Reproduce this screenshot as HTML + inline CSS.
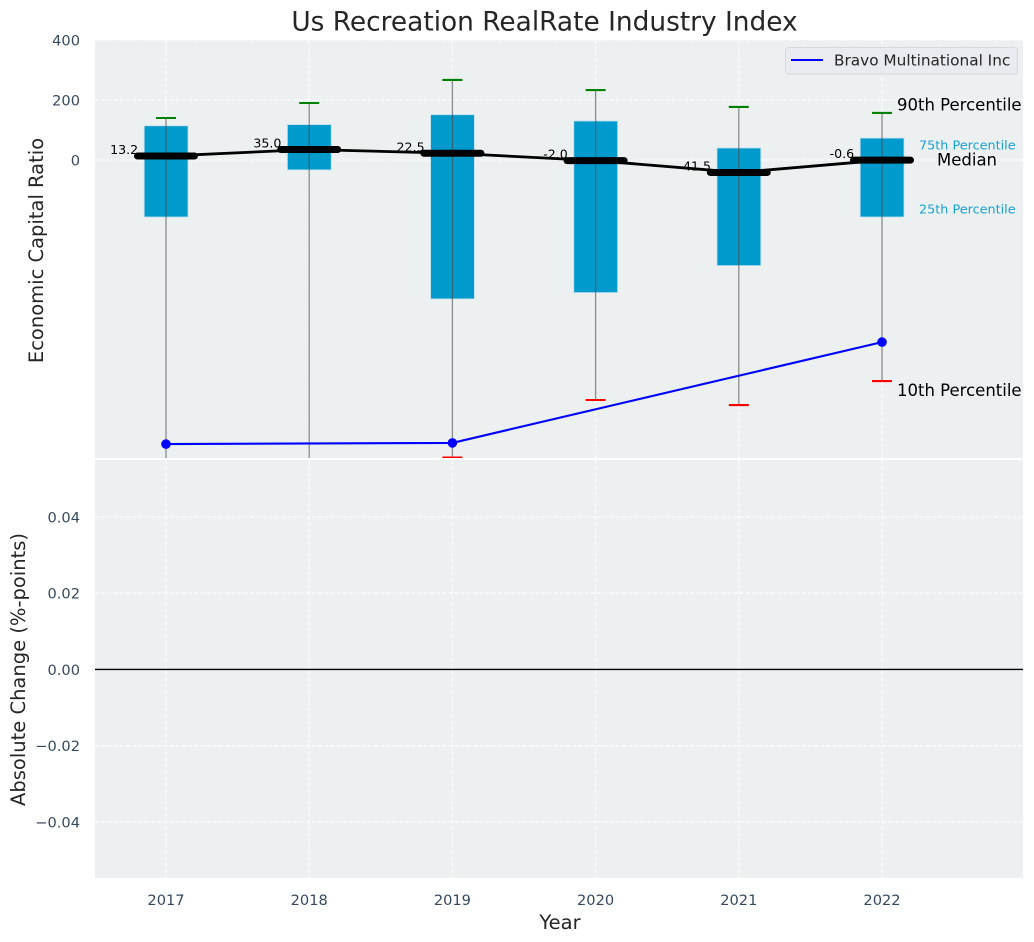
<!DOCTYPE html>
<html lang="en">
<head>
<meta charset="utf-8">
<title>Us Recreation RealRate Industry Index</title>
<style>
html,body{margin:0;padding:0;background:#fff;width:1034px;height:942px;overflow:hidden}
svg{display:block}
text{font-family:"DejaVu Sans","Liberation Sans",sans-serif}
.tick{font-size:14.6px;fill:#34495e}
.label{font-size:19.5px;fill:#262626}
</style>
</head>
<body>
<svg id="chart" xmlns="http://www.w3.org/2000/svg" width="1034" height="942" viewBox="0 0 1034 942">
  <defs>
    <clipPath id="top-clip"><rect x="95" y="40" width="928" height="418"/></clipPath>
  </defs>
  <rect x="95" y="40" width="928" height="418" fill="#ecf0f1"/>
  <rect x="95" y="460" width="928" height="418" fill="#ecf0f1"/>
  <g id="grid"></g>
  <g id="marks" clip-path="url(#top-clip)"></g>
  <g id="annotations"></g>
  <g id="ticks"></g>
  <text x="544.5" y="30.5" text-anchor="middle" font-size="26.4" fill="#262626">Us Recreation RealRate Industry Index</text>
  <text class="label" text-anchor="middle" transform="translate(43,250.5) rotate(-90)">Economic Capital Ratio</text>
  <text class="label" text-anchor="middle" transform="translate(25,669.5) rotate(-90)">Absolute Change (%-points)</text>
  <text class="label" x="560" y="929" text-anchor="middle">Year</text>
  <g>
    <rect x="785.5" y="47.5" width="232" height="26.5" rx="3" fill="#e9ebf1" stroke="#d8d9de"/>
    <line x1="791" y1="60" x2="823" y2="60" stroke="#0000ff" stroke-width="2"/>
    <text x="834" y="65.5" font-size="15.3" fill="#262626">Bravo Multinational Inc</text>
  </g>
</svg>
<script>
const years = [2017, 2018, 2019, 2020, 2021, 2022];
const p90 = [140, 190, 267, 233, 177, 157];
const q3 = [114, 118, 151, 130, 40, 73];
const medians = [13.2, 35.0, 22.5, -2.0, -41.5, -0.6];
const q1 = [-190, -33, -463, -442, -352, -190];
const p10 = [-1100, -1100, -992, -800, -817, -737];
const company = [-947, null, -943, null, null, -607];
const topTicks = [400, 200, 0];
const bottomTicks = [0.04, 0.02, 0, -0.02, -0.04];
const bottomZero = [0];

const NS = 'http://www.w3.org/2000/svg';
const grid = document.getElementById('grid');
const marks = document.getElementById('marks');
const annotations = document.getElementById('annotations');
const ticks = document.getElementById('ticks');

function x(year) { return 166 + (year - 2017) * 143.2; }
function yTop(v) { return 160 - v * 0.3; }
function yBottom(v) { return 669.4 - v * 3812.5; }

function make(parent, tag, attrs, text) {
  const el = document.createElementNS(NS, tag);
  for (const k in attrs) el.setAttribute(k, attrs[k]);
  if (text !== undefined) el.textContent = text;
  parent.appendChild(el);
  return el;
}

const gridStyle = { stroke: '#ffffff', 'stroke-width': 1.1, 'stroke-dasharray': '4 2.2', opacity: 0.9 };

topTicks.forEach(function (v) {
  const line = make(grid, 'line', Object.assign({ x1: 95, x2: 1023, y1: yTop(v), y2: yTop(v) }, gridStyle));
  
  
  const label = make(ticks, 'text', { class: 'tick', x: 80, y: yTop(v) + 5.5, 'text-anchor': 'end' }, String(v));
  
  
});

bottomTicks.forEach(function (v) {
  const line = make(grid, 'line', Object.assign({ x1: 95, x2: 1023, y1: yBottom(v), y2: yBottom(v) }, gridStyle));
  
  
  const text = v.toFixed(2).replace('-', '\u2212');
  const label = make(ticks, 'text', { class: 'tick', x: 80, y: yBottom(v) + 5.5, 'text-anchor': 'end' }, text);
  
  
});

years.forEach(function (year) {
  const topLine = make(grid, 'line', Object.assign({ x1: x(year), x2: x(year), y1: 40, y2: 458 }, gridStyle));
  
  
  const bottomLine = make(grid, 'line', Object.assign({ x1: x(year), x2: x(year), y1: 460, y2: 878 }, gridStyle));
  
  
  const label = make(ticks, 'text', { class: 'tick', x: x(year), y: 905, 'text-anchor': 'middle' }, String(year));
  
  
});

bottomZero.forEach(function (v) {
  const zero = make(grid, 'line', { x1: 95, x2: 1023, y1: yBottom(v), y2: yBottom(v), stroke: '#000000', 'stroke-width': 1.4 });
  
  
});

years.forEach(function (year, i) {
  const box = make(marks, 'rect', {
    x: x(year) - 21.8, width: 43.8,
    y: yTop(q3[i]), height: yTop(q1[i]) - yTop(q3[i]),
    fill: '#009acd', stroke: '#bfe0ee', 'stroke-width': 0.8
  });
  
  
});

years.forEach(function (year, i) {
  const whisker = make(marks, 'line', {
    x1: x(year), x2: x(year), y1: yTop(p90[i]), y2: yTop(p10[i]),
    stroke: '#4a4a4a', 'stroke-opacity': 0.62, 'stroke-width': 1.3
  });
  
  
  const capHigh = make(marks, 'line', {
    x1: x(year) - 10, x2: x(year) + 10, y1: yTop(p90[i]), y2: yTop(p90[i]),
    stroke: '#008000', 'stroke-width': 2.1
  });
  
  
  const capLow = make(marks, 'line', {
    x1: x(year) - 10, x2: x(year) + 10, y1: yTop(p10[i]), y2: yTop(p10[i]),
    stroke: '#ff0000', 'stroke-width': 2.1
  });
  
  
});

const medianPoints = years.map(function (year, i) { return x(year) + ',' + yTop(medians[i]); }).join(' ');
const medianLine = make(marks, 'polyline', { points: medianPoints, fill: 'none', stroke: '#000000', 'stroke-width': 2.8 });



years.forEach(function (year, i) {
  const bar = make(marks, 'line', {
    x1: x(year) - 28.5, x2: x(year) + 28.5, y1: yTop(medians[i]), y2: yTop(medians[i]),
    stroke: '#000000', 'stroke-width': 7, 'stroke-linecap': 'round'
  });
  
  
  const value = make(annotations, 'text', {
    x: x(year) - 27.8, y: yTop(medians[i]) - 2, 'text-anchor': 'end', 'font-size': 12.6, fill: '#000000'
  }, medians[i].toFixed(1));
  
  
});

const companyPoints = [];
years.forEach(function (year, i) {
  if (company[i] !== null) companyPoints.push(x(year) + ',' + yTop(company[i]));
});
const companyLine = make(marks, 'polyline', { points: companyPoints.join(' '), fill: 'none', stroke: '#0000ff', 'stroke-width': 2.1 });



years.forEach(function (year, i) {
  if (company[i] === null) return;
  const dot = make(marks, 'circle', { cx: x(year), cy: yTop(company[i]), r: 4.8, fill: '#0000ff' });
  
  
});

const last = years.length - 1;
const lastX = x(years[last]);
const noteP90 = make(annotations, 'text', { x: lastX + 15, y: yTop(p90[last]) - 2.5, 'font-size': 16.5, fill: '#000000' }, '90th Percentile');


const noteQ3 = make(annotations, 'text', { x: lastX + 37, y: yTop(q3[last]) + 11.5, 'font-size': 12.8, fill: '#18a2d1' }, '75th Percentile');


const noteMedian = make(annotations, 'text', { x: lastX + 55, y: yTop(medians[last]) + 5.5, 'font-size': 16.5, fill: '#000000' }, 'Median');


const noteQ1 = make(annotations, 'text', { x: lastX + 37, y: yTop(q1[last]) - 3.5, 'font-size': 12.8, fill: '#18a2d1' }, '25th Percentile');


const noteP10 = make(annotations, 'text', { x: lastX + 15, y: yTop(p10[last]) + 15, 'font-size': 16.5, fill: '#000000' }, '10th Percentile');


</script>
</body>
</html>
